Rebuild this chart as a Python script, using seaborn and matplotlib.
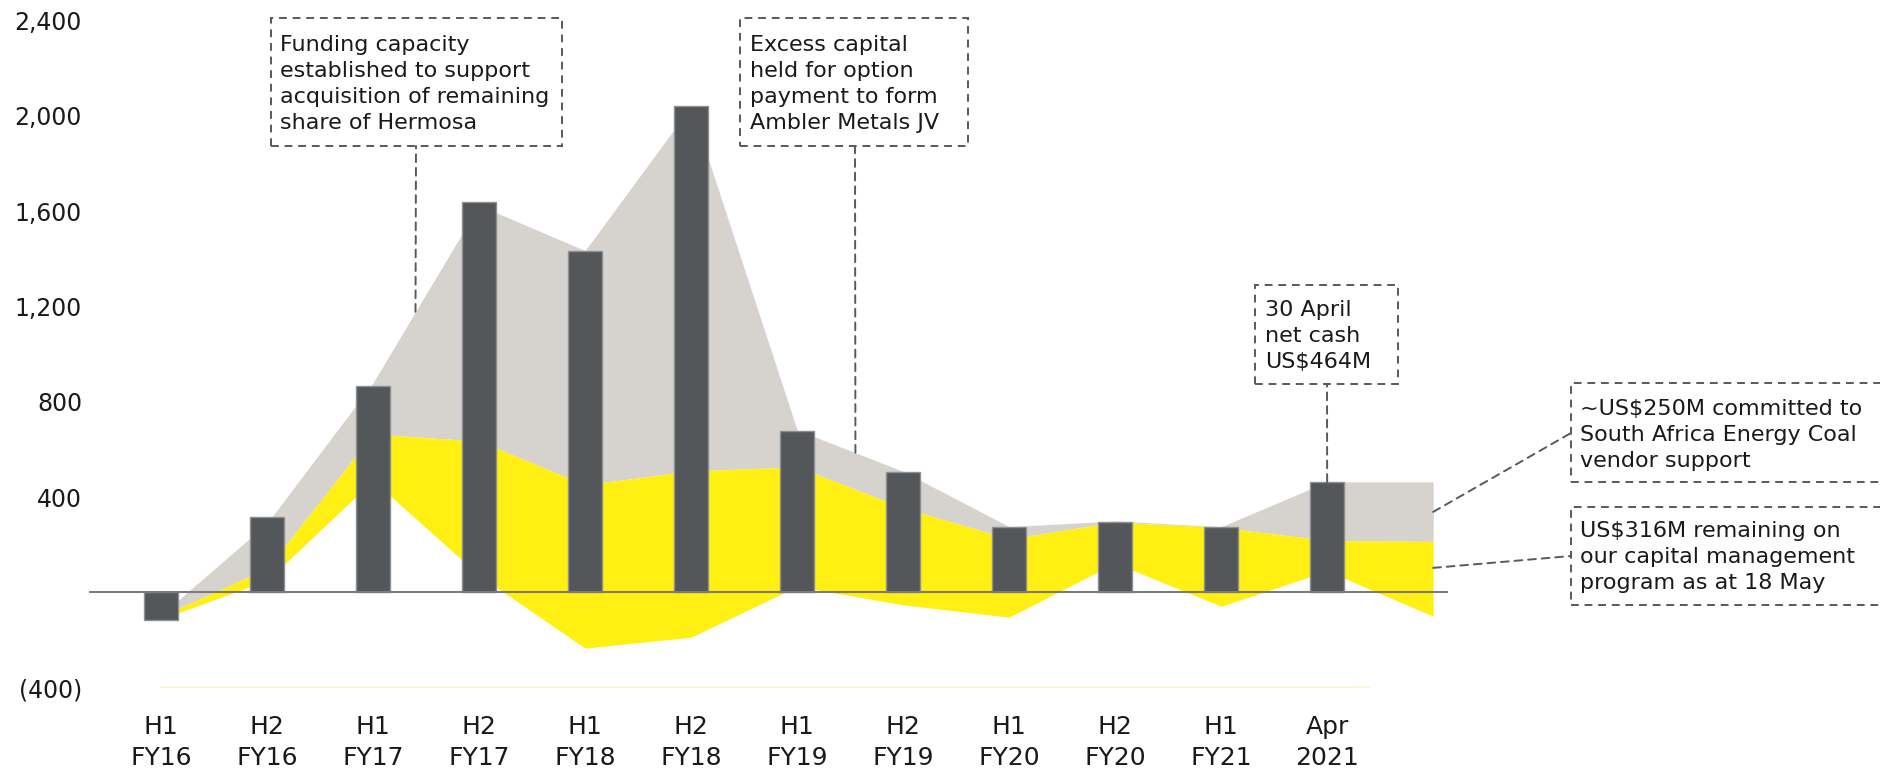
import numpy as np
import pandas as pd
import seaborn as sns
import matplotlib.pyplot as plt
from matplotlib.patches import Rectangle, ConnectionPatch

# 数据（从图中读取，单位 US$M）
periods = ["H1\nFY16", "H2\nFY16", "H1\nFY17", "H2\nFY17", "H1\nFY18", "H2\nFY18",
           "H1\nFY19", "H2\nFY19", "H1\nFY20", "H2\nFY20", "H1\nFY21", "Apr\n2021"]
net_cash = [-115, 315, 865, 1640, 1433, 2042, 678, 505, 276, 297, 274, 464]

# 面积图的节点（比柱子多一个，延伸到右侧）
area_x = list(range(13))
capacity_top = [-95, 290, 880, 1625, 1435, 2040, 682, 508, 276, 300, 276, 464, 464]
yellow_top = [-100, 100, 665, 635, 452, 510, 527, 355, 225, 295, 273, 218, 214]
yellow_bottom = [-112, 50, 470, 72, -234, -188, 25, -52, -104, 123, -58, 90, -100]

ytick_vals = [-400, 400, 800, 1200, 1600, 2000, 2400]
ytick_labels = ["(400)", "400", "800", "1,200", "1,600", "2,000", "2,400"]

BAR = "#54575a"
GREY = "#d6d3ce"
YELLOW = "#ffef12"
DASH = "#555a5e"
INK = "#1a1a1a"

sns.set_style("white")
plt.rcParams["font.family"] = ["DejaVu Sans"]

W, H = 1880, 770
fig = plt.figure(figsize=(W / 100, H / 100), dpi=100)
ax = fig.add_axes([89 / W, 82.3 / H, (1448 - 89) / W, 667 / H])

df = pd.DataFrame({"period": periods, "net_cash": net_cash})

ax.fill_between(area_x, yellow_top, capacity_top, color=GREY, lw=0, zorder=1)
ax.fill_between(area_x, yellow_bottom, yellow_top, color=YELLOW, lw=0, zorder=2)
sns.barplot(data=df, x="period", y="net_cash", color=BAR, saturation=1, width=0.32,
            edgecolor="#8d8f91", linewidth=1, ax=ax, zorder=3)
ax.axhline(0, color="#7a7b7d", lw=1.5, zorder=4)
ax.plot([0, 11.4], [-395, -395], color="#fbf5cc", lw=1.2, zorder=1)

ax.set_xlim(-0.68, 12.14)
ax.set_ylim(-400, 2400)
ax.set_xticks(range(len(periods)))
ax.set_xticklabels(periods, fontsize=18, linespacing=1.33, color=INK)
ax.set_yticks(ytick_vals)
ax.set_yticklabels(ytick_labels, fontsize=17, color=INK)
ax.tick_params(axis="x", length=0, pad=20)
ax.tick_params(axis="y", length=0, pad=5)
ax.set_xlabel("")
ax.set_ylabel("")
for s in ax.spines.values():
    s.set_visible(False)


def fx(x, y):
    return x / W, 1 - y / H


def note(x0, y0, x1, y1, text, tx, ty):
    fig.add_artist(Rectangle(fx(x0, y1), (x1 - x0) / W, (y1 - y0) / H,
                             transform=fig.transFigure, fill=False,
                             ls=(0, (4, 3)), lw=1.4, ec=DASH, clip_on=False))
    fig.text(*fx(tx, ty), text, ha="left", va="top", fontsize=16,
             linespacing=1.37, color=INK)


def leader(xy_data, x_px, y_px):
    fig.add_artist(ConnectionPatch(xy_data, fx(x_px, y_px), coordsA=ax.transData,
                                   coordsB=fig.transFigure, ls=(0, (4, 3)),
                                   lw=1.4, color=DASH))


note(271, 18, 562, 146,
     "Funding capacity\nestablished to support\nacquisition of remaining\nshare of Hermosa", 280, 35)
note(740, 18, 968, 146,
     "Excess capital\nheld for option\npayment to form\nAmbler Metals JV", 750, 35)
note(1255, 285, 1398, 384, "30 April\nnet cash\nUS$464M", 1265, 300)
note(1571, 383, 1890, 482,
     "~US$250M committed to\nSouth Africa Energy Coal\nvendor support", 1580, 399)
note(1571, 507, 1890, 605,
     "US$316M remaining on\nour capital management\nprogram as at 18 May", 1580, 521)

leader((2.4, np.interp(2.4, area_x, capacity_top)), 416, 146)
leader((6.55, np.interp(6.55, area_x, capacity_top)), 855, 146)
leader((11, 464), 1327, 384)
leader((12, 338), 1571, 433)
leader((12, 103), 1571, 556)

fig.savefig("out.png", dpi=100)
